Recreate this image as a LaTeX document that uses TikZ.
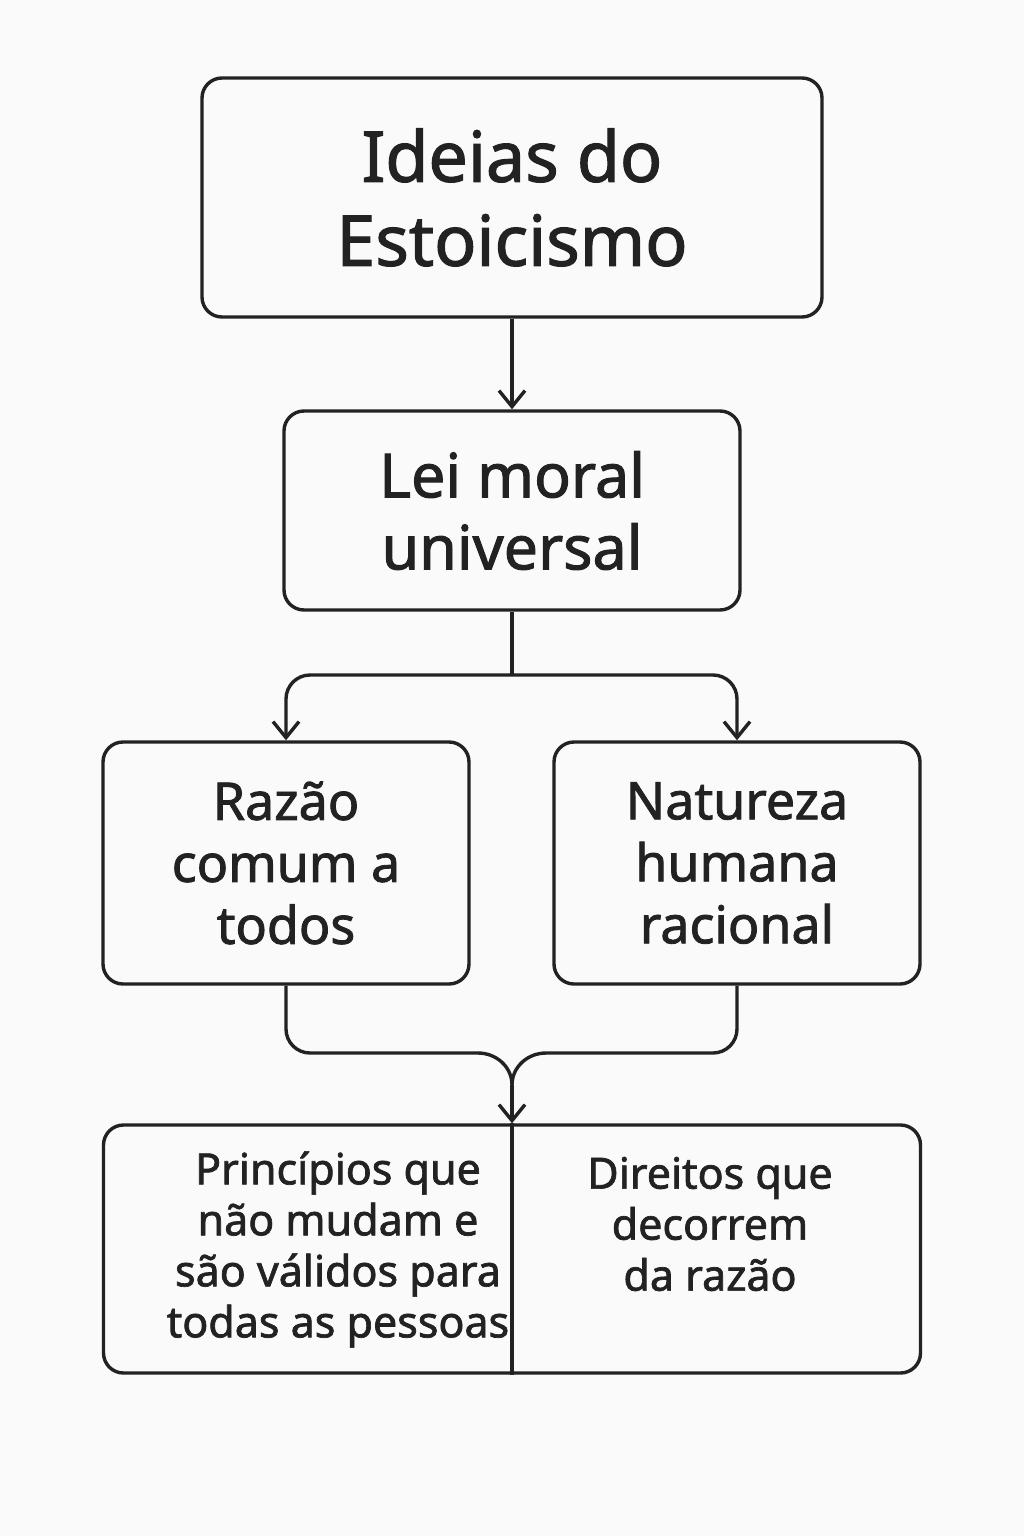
\documentclass[tikz,border=0pt]{standalone}
\usepackage{fontspec}
\setmainfont{Noto Sans}[FakeBold=1.6]
\usetikzlibrary{arrows.meta}
\definecolor{ink}{HTML}{222222}
\definecolor{paper}{HTML}{FAFAFA}

\begin{document}
\begin{tikzpicture}[x=0.5pt,y=-0.5pt,
    box/.style={draw=ink, line width=1.7pt, rounded corners=10pt, inner sep=0pt, text=ink, align=center},
    conn/.style={draw=ink, line width=1.7pt},
    tip/.style={-{Straight Barb[length=8pt,width=13pt]}},
    label/.style={text=ink, align=center, inner sep=0pt}]

    \useasboundingbox[fill=paper] (0,0) rectangle (1024,1536);

    % boxes
    \node[box, minimum width=310pt, minimum height=119.5pt, font=\fontsize{35}{42}\selectfont]
        (ideias) at (512,197.5) {Ideias do\\Estoicismo};
    \node[box, minimum width=228pt, minimum height=99.5pt, font=\fontsize{30.5}{36}\selectfont]
        (lei) at (512,510.5) {Lei moral\\universal};
    \node[box, minimum width=183pt, minimum height=121pt, font=\fontsize{26}{31}\selectfont]
        (razao) at (286,863) {Razão\\comum a\\todos};
    \node[box, minimum width=183pt, minimum height=121pt, font=\fontsize{26}{31}\selectfont]
        (natureza) at (737,863) {Natureza\\humana\\racional};
    \node[box, minimum width=408.5pt, minimum height=124pt] (base) at (512,1249) {};

    \node[label, font=\fontsize{21.5}{25.5}\selectfont] (principios) at (338,1249.5)
        {Princípios que\\não mudam e\\são válidos para\\todas as pessoas};
    \node[label, font=\fontsize{21.5}{25.5}\selectfont] (direitos) at (710,1224)
        {Direitos que\\decorrem\\da razão};

    % connectors
    \draw[conn, tip] (ideias) -- (lei);

    \coordinate (split) at (512,675);
    \draw[conn] (lei.south) -- (split);
    \draw[conn, tip, rounded corners=12pt] (split) -| (razao.north);
    \draw[conn, tip, rounded corners=12pt] (split) -| (natureza.north);

    \coordinate (merge) at (512,1085);
    \coordinate (mergeL) at (478,1053);
    \coordinate (mergeR) at (546,1053);
    \draw[conn, rounded corners=12pt] (razao.south) |- (mergeL);
    \draw[conn, rounded corners=12pt] (natureza.south) |- (mergeR);
    \draw[conn] (mergeL) to[out=0,in=90] (merge) to[out=90,in=180] (mergeR);
    \draw[conn, tip] (merge) -- (base.north);
    \draw[conn] (base.north) -- (base.south);
\end{tikzpicture}
\end{document}
